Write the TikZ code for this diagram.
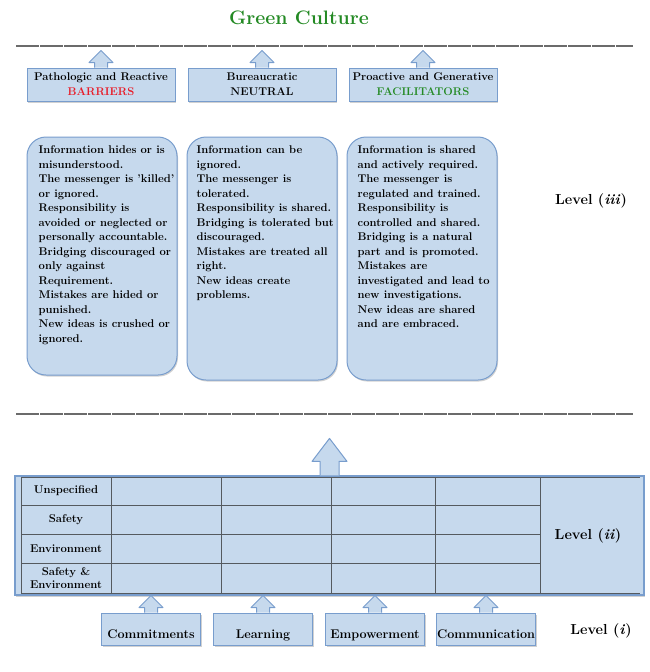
\documentclass[tikz,border=0pt]{standalone}
\usetikzlibrary{shadows}
\definecolor{boxfill}{RGB}{198,217,237}
\definecolor{boxline}{RGB}{120,157,205}
\definecolor{gridline}{RGB}{85,90,95}
\definecolor{darkgreen}{RGB}{36,138,36}
\definecolor{barred}{RGB}{232,28,40}
\begin{document}
\begin{tikzpicture}[x=1pt,y=-1pt,
  shade/.style={drop shadow={shadow xshift=1pt,shadow yshift=-1.5pt,fill=black!40,opacity=0.45}},
  hdbox/.style={draw=boxline,fill=boxfill,line width=1pt,shade,minimum width=148pt,minimum height=33pt,
    inner sep=0pt,align=center,font=\fontsize{11.2}{15}\selectfont\bfseries},
  ideabox/.style={draw=boxline,fill=boxfill,line width=1pt,shade,rounded corners=19pt,
    minimum width=150pt,inner sep=0pt},
  ideatext/.style={anchor=north west,inner sep=0pt,align=left,font=\fontsize{11.2}{14.5}\selectfont\bfseries},
  aspectbox/.style={draw=boxline,fill=boxfill,line width=1pt,shade,minimum width=99pt,minimum height=32pt,
    inner sep=0pt,text height=20pt,text depth=1pt,font=\fontsize{12.6}{13}\selectfont\bfseries},
  rowlabel/.style={align=center,inner sep=0pt,font=\fontsize{11.3}{12.5}\selectfont\bfseries},
  levellabel/.style={inner sep=0pt,font=\fontsize{14.5}{16}\selectfont\bfseries},
  sepline/.style={draw=black!58,line width=1.2pt,dash pattern=on 23pt off 1pt},
  smallup/.pic={
    \fill[boxfill] (-6.5,0) -- (-6.5,-5) -- (-12,-5) -- (0,-17) -- (12,-5) -- (6.5,-5) -- (6.5,0) -- cycle;
    \draw[boxline,line width=1pt,line join=round] (-6.5,0) -- (-6.5,-5) -- (-12,-5) -- (0,-17) -- (12,-5) -- (6.5,-5) -- (6.5,0);
  },
  bigup/.pic={
    \fill[boxfill] (-9.5,0) -- (-9.5,-14) -- (-17.5,-14) -- (0,-37) -- (17.5,-14) -- (9.5,-14) -- (9.5,0) -- cycle;
    \draw[boxline,line width=1pt,line join=round] (-9.5,0) -- (-9.5,-14) -- (-17.5,-14) -- (0,-37) -- (17.5,-14) -- (9.5,-14) -- (9.5,0);
  }]
\useasboundingbox (0,0) rectangle (650,672);
% Title
\node[font=\fontsize{19.5}{21}\selectfont\bfseries,text=darkgreen] (title) at (299,18) {Green Culture};
% Separators
\draw[sepline] (16,46) -- (633,46);
\draw[sepline] (16,414) -- (633,414);
% Level (iii): cultures
\node[hdbox] (hdA) at (101,84.5) {Pathologic and Reactive\\\textcolor{barred}{BARRIERS}};
\node[hdbox] (hdB) at (262,84.5) {Bureaucratic\\NEUTRAL};
\node[hdbox] (hdC) at (423,84.5) {Proactive and Generative\\\textcolor{darkgreen}{FACILITATORS}};
\pic at (hdA.north) {smallup};
\pic at (hdB.north) {smallup};
\pic at (hdC.north) {smallup};
\node[ideabox,minimum height=238pt] (lvA) at (102,256) {};
\node[ideabox,minimum height=243pt] (lvB) at (262,258.5) {};
\node[ideabox,minimum height=243pt] (lvC) at (422,258.5) {};
\node[ideatext] (txA) at ([shift={(12,9)}]lvA.north west) {Information hides or is\\
misunderstood.\\
The messenger is 'killed'\\
or ignored.\\
Responsibility is\\
avoided or neglected or\\
personally accountable.\\
Bridging discouraged or\\
only against\\
Requirement.\\
Mistakes are hided or\\
punished.\\
New ideas is crushed or\\
ignored.};
\node[ideatext] (txB) at ([shift={(10,9)}]lvB.north west) {Information can be\\
ignored.\\
The messenger is\\
tolerated.\\
Responsibility is shared.\\
Bridging is tolerated but\\
discouraged.\\
Mistakes are treated all\\
right.\\
New ideas create\\
problems.};
\node[ideatext] (txC) at ([shift={(11,9)}]lvC.north west) {Information is shared\\
and actively required.\\
The messenger is\\
regulated and trained.\\
Responsibility is\\
controlled and shared.\\
Bridging is a natural\\
part and is promoted.\\
Mistakes are\\
investigated and lead to\\
new investigations.\\
New ideas are shared\\
and are embraced.};
\node[levellabel] (lv3) at (591,201) {Level (\textit{iii})};
% Level (ii): table
\node[draw=boxline,fill=boxfill,line width=1.2pt,shade,minimum width=629pt,minimum height=119pt,inner sep=0pt] (tbl) at (329.5,535.5) {};
\pic at (tbl.north) {bigup};
\foreach \gx in {21,111,221,331,435,540}
  \draw[gridline,line width=0.8pt] (\gx,477) -- (\gx,593);
\foreach \gy in {505,534,563}
  \draw[gridline,line width=0.8pt] (21,\gy) -- (540,\gy);
\draw[gridline,line width=0.8pt] (21,477) -- (640,477);
\draw[gridline,line width=0.8pt] (21,593) -- (640,593);
\node[rowlabel] (rowU) at (66,491) {Unspecified};
\node[rowlabel] (rowS) at (66,520) {Safety};
\node[rowlabel] (rowE) at (66,549) {Environment};
\node[rowlabel] (rowSE) at (66,578) {Safety \&\\Environment};
\node[levellabel] (lv2) at (588,536) {Level (\textit{ii})};
% Level (i): aspects
\node[aspectbox] (cmt) at (151,629) {Commitments};
\node[aspectbox] (lrn) at (263,629) {Learning};
\node[aspectbox] (emp) at (375,629) {Empowerment};
\node[aspectbox] (com) at (486,629) {Communication};
\pic at (cmt.north) {smallup};
\pic at (lrn.north) {smallup};
\pic at (emp.north) {smallup};
\pic at (com.north) {smallup};
\node[levellabel] (lv1) at (601,631) {Level (\textit{i})};
\end{tikzpicture}
\end{document}
